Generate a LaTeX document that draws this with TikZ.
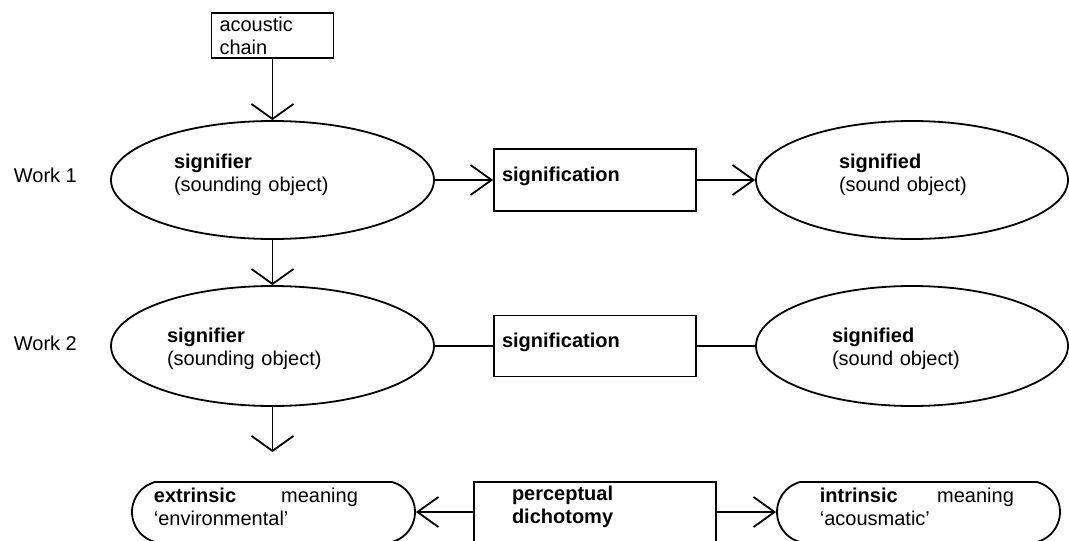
\documentclass[tikz,border=0pt]{standalone}
\usepackage{fontspec}
\setmainfont{Liberation Sans}
\usetikzlibrary{arrows.meta,shapes.geometric,shapes.misc}
\def\lift#1{\rule[-#1]{0pt}{#1}}
\def\drop#1{\rule{0pt}{#1}}

\begin{document}
\begin{tikzpicture}[x=1pt, y=-1pt, line width=1.8pt,
	every node/.style={font=\fontsize{20}{23}\selectfont},
	oval/.style={draw, ellipse, align=left, inner sep=3pt},
	box/.style={draw, rectangle, align=left, inner sep=3pt},
	pill/.style={draw, rounded rectangle, rounded rectangle arc length=150, minimum width=283pt, minimum height=60pt, inner sep=0pt},
	pilltext/.style={anchor=north west, align=left, inner sep=0pt},
	vtip/.style={-{Straight Barb[length=15pt, width=42pt]}},
	htip/.style={-{Straight Barb[length=21pt, width=30pt]}}]
		%%%%% START %%%%%
		\useasboundingbox (0, 0) rectangle (1069, 541);
		
		\node[box, minimum width=122pt, minimum height=45pt, text width=106pt] (chain) at (272.5, 35.5) {acoustic\\chain};
		
		\node[anchor=base west, inner sep=0pt] (work1) at (13, 182) {Work 1};
		\node[anchor=base west, inner sep=0pt] (work2) at (13, 350) {Work 2};
		
		\node[oval, minimum width=323pt, minimum height=118pt, text width=197pt] (sgnr1) at (272.5, 180) {\textbf{signifier}\\(sounding object)\lift{14pt}};
		\node[box, minimum width=202pt, minimum height=62pt, text width=186pt] (sgnc1) at (595, 180) {\textbf{signification}\lift{12pt}};
		\node[oval, minimum width=312pt, minimum height=118pt, text width=146pt] (sgnd1) at (912, 180) {\textbf{signified}\\(sound object)\lift{14pt}};
		
		\node[oval, minimum width=323pt, minimum height=120pt, text width=211pt] (sgnr2) at (272.5, 346) {\drop{20pt}\textbf{signifier}\\(sounding object)};
		\node[box, minimum width=202pt, minimum height=61pt, text width=186pt] (sgnc2) at (595, 346) {\textbf{signification}\lift{12pt}};
		\node[oval, minimum width=312pt, minimum height=120pt, text width=160pt] (sgnd2) at (912, 346) {\drop{20pt}\textbf{signified}\\(sound object)};
		
		\coordinate (down) at (272.5, 452);
		
		\node[pill] (extr) at (273.5, 512) {};
		\node[pilltext] (extrtext) at (153, 486.7) {\makebox[204pt]{\textbf{extrinsic}\hfill meaning}\\‘environmental’};
		\node[box, minimum width=242pt, minimum height=62pt, text width=166pt] (dicho) at (595, 513) {\textbf{perceptual}\\\textbf{dichotomy}\lift{16pt}};
		\node[pill] (intr) at (918.5, 512) {};
		\node[pilltext] (intrtext) at (819, 486.7) {\makebox[194pt]{\textbf{intrinsic}\hfill meaning}\\‘acousmatic’};
		
		\draw[vtip] (chain.south) -- (sgnr1.north);
		\draw[vtip] (sgnr1.south) -- (sgnr2.north);
		\draw[vtip] (sgnr2.south) -- (down);
		
		\draw[htip] (sgnr1.east) -- (sgnc1.west);
		\draw[htip] (sgnc1.east) -- (sgnd1.west);
		\draw (sgnr2.east) -- (sgnc2.west);
		\draw (sgnc2.east) -- (sgnd2.west);
		
		\draw[htip] (dicho.west |- extr.east) -- (extr.east);
		\draw[htip] (dicho.east |- intr.west) -- (intr.west);
		%%%%% END %%%%%
\end{tikzpicture}
\end{document}
